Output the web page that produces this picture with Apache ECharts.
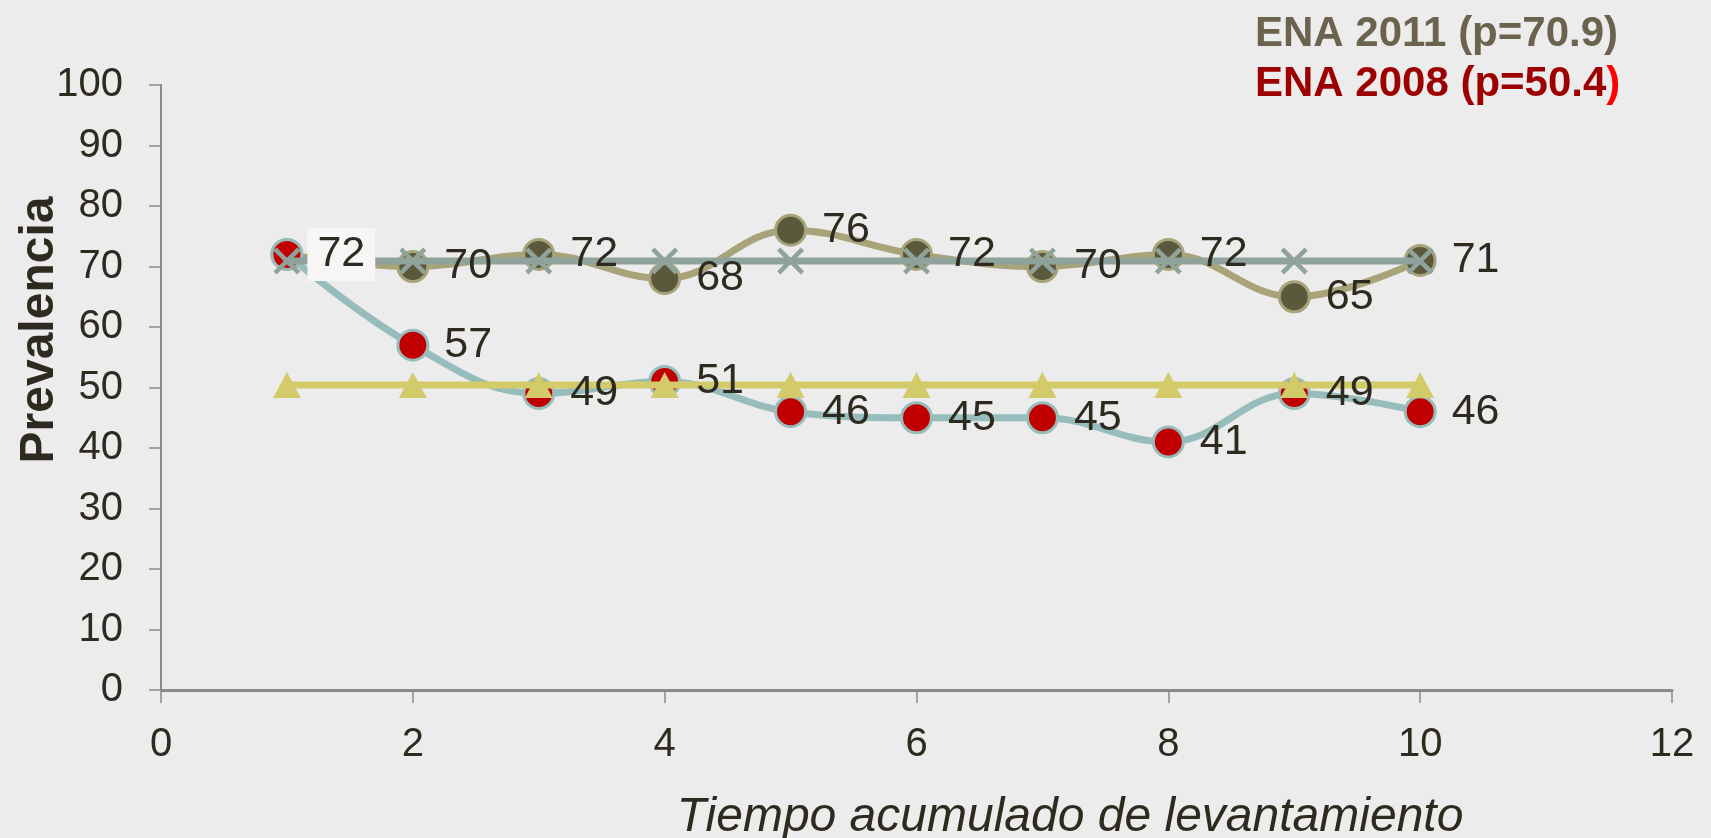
<!DOCTYPE html>
<html>
<head>
<meta charset="utf-8">
<script src="https://cdn.jsdelivr.net/npm/echarts@6/dist/echarts.min.js"></script>
<style>
html,body{margin:0;padding:0;background:#ececec;}
#chart{width:1711px;height:838px;}
</style>
</head>
<body>
<div id="chart"></div>
<script>
const xValues = [1, 2, 3, 4, 5, 6, 7, 8, 9, 10];
const ena2011 = [72, 70, 72, 68, 76, 72, 70, 72, 65, 71];
const ena2008 = [72, 57, 49, 51, 46, 45, 45, 41, 49, 46];
const mean2011 = 70.9;
const mean2008 = 50.4;
const legend2011 = 'ENA 2011 (p=70.9)';
const legend2008a = 'ENA 2008 (p=50.4';
const legend2008b = ')';
const yTitle = 'Prevalencia';
const xTitle = 'Tiempo acumulado de levantamiento';

const FONT = '"Liberation Sans", Arial, sans-serif';
const TXT = '#2e2a20';
const crossPath = 'path://M0,1.2L1.2,0L5,3.8L8.8,0L10,1.2L6.2,5L10,8.8L8.8,10L5,6.2L1.2,10L0,8.8L3.8,5Z';

const pts = (ys) => xValues.map((x, i) => [x, ys[i]]);
const flat = (v) => xValues.map(x => [x, v]);

const chart = echarts.init(document.getElementById('chart'), null, {renderer: 'canvas'});
const labelStyle = {show: true, position: 'right', distance: 31, fontSize: 43, color: TXT, opacity: 1, fontFamily: FONT};

chart.setOption({
  backgroundColor: '#ececec',
  animation: false,
  grid: {left: 161, top: 85, right: 39, bottom: 148},
  xAxis: {
    type: 'value', min: 0, max: 12, interval: 2,
    axisLine: {show: true, lineStyle: {color: '#8a8a8a', width: 3}},
    axisTick: {show: true, length: 13, lineStyle: {color: '#8a8a8a', width: 1.5}},
    axisLabel: {fontSize: 40, color: TXT, fontFamily: FONT, margin: 35},
    splitLine: {show: false}
  },
  yAxis: {
    type: 'value', min: 0, max: 100, interval: 10,
    axisLine: {show: true, lineStyle: {color: '#8a8a8a', width: 2}},
    axisTick: {show: true, length: 12, lineStyle: {color: '#8a8a8a', width: 1.5}},
    axisLabel: {fontSize: 40, color: TXT, fontFamily: FONT, margin: 38},
    splitLine: {show: false}
  },
  graphic: [
    {type: 'text', left: 1255, top: 13, style: {text: legend2011, fontSize: 42, fontWeight: 'bold', fontFamily: FONT, fill: '#6b634e'}},
    {type: 'text', left: 1255, top: 63, style: {
      text: '{a|' + legend2008a + '}{b|' + legend2008b + '}',
      fontFamily: FONT, fontSize: 42, fontWeight: 'bold', fill: '#9c0000',
      rich: {
        a: {fontSize: 42, fontWeight: 'bold', fontFamily: FONT, fill: '#9c0000'},
        b: {fontSize: 42, fontWeight: 'bold', fontFamily: FONT, fill: '#ff0000'}
      }
    }},
    {type: 'text', x: 40, y: 330, rotation: Math.PI / 2, style: {text: yTitle, fontSize: 48, fontWeight: 'bold', fontFamily: FONT, fill: TXT, align: 'center', verticalAlign: 'middle'}},
    {type: 'text', x: 1070, y: 818, style: {text: xTitle, fontSize: 48, fontStyle: 'italic', fontFamily: FONT, fill: TXT, align: 'center', verticalAlign: 'middle'}}
  ],
  series: [
    {
      name: 'ENA 2011', type: 'line', z: 2, smooth: 0.4, data: pts(ena2011),
      lineStyle: {color: '#a9a37a', width: 7},
      symbol: 'circle', symbolSize: 30,
      itemStyle: {color: '#5a593c', borderColor: '#a9a37a', borderWidth: 3}
    },
    {
      name: 'ENA 2008', type: 'line', z: 3, smooth: 0.4, data: pts(ena2008),
      lineStyle: {color: '#97bcbc', width: 7},
      symbol: 'circle', symbolSize: 30,
      itemStyle: {color: '#c00000', borderColor: '#97bcbc', borderWidth: 3}
    },
    {
      name: 'Media 2011', type: 'line', z: 4, data: flat(mean2011),
      lineStyle: {color: '#8fa29b', width: 7},
      symbol: crossPath, symbolSize: 27,
      itemStyle: {color: '#8fa29b'}
    },
    {
      name: 'Media 2008', type: 'line', z: 5, data: flat(mean2008),
      lineStyle: {color: '#d3ca6a', width: 7},
      symbol: 'triangle', symbolSize: [28, 26],
      itemStyle: {color: '#d3ca6a'}
    },
    {
      name: 'Etiquetas 2011', type: 'scatter', z: 10, symbolSize: 1,
      itemStyle: {color: 'rgba(0,0,0,0)', opacity: 1},
      data: pts(ena2011).map((p, i) => i === 0 ? {value: p, label: {backgroundColor: '#f6f6f6', padding: [6, 10, 4, 10], distance: 20}} : {value: p}),
      label: Object.assign({}, labelStyle, {formatter: p => p.value[1]})
    },
    {
      name: 'Etiquetas 2008', type: 'scatter', z: 10, symbolSize: 1,
      itemStyle: {color: 'rgba(0,0,0,0)', opacity: 1},
      data: pts(ena2008).map((p, i) => i === 0 ? {value: p, label: {show: false}} : {value: p}),
      label: Object.assign({}, labelStyle, {formatter: p => p.value[1]})
    }
  ]
});
</script>
</body>
</html>
